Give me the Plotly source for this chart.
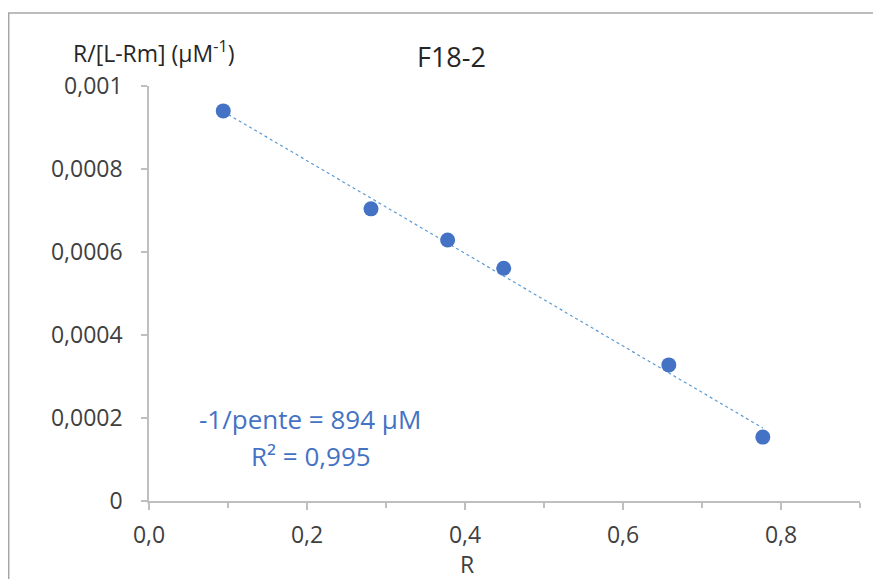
import numpy as np
import plotly.graph_objects as go

# Data
r_values = [0.094, 0.281, 0.378, 0.449, 0.658, 0.777]
ratio_values = [0.000940, 0.000704, 0.000629, 0.000561, 0.000328, 0.000154]

y_tickvals = [0, 0.0002, 0.0004, 0.0006, 0.0008, 0.001]
y_ticktext = ["0", "0,0002", "0,0004", "0,0006", "0,0008", "0,001"]
x_tickvals = [0, 0.2, 0.4, 0.6, 0.8]
x_ticktext = ["0,0", "0,2", "0,4", "0,6", "0,8"]

title_text = "F18-2"
y_title = "R/[L-Rm] (µM<sup>-1</sup>)"
x_title = "R"
fit_label_1 = "-1/pente = 894 µM"
fit_label_2 = "R² = 0,995"

# Linear trendline
slope, intercept = np.polyfit(r_values, ratio_values, 1)
fit_x = [min(r_values), max(r_values)]
fit_y = [slope * v + intercept for v in fit_x]

FONT = "Open Sans"
TXT = "#404040"
DARK = "#262626"
BLUE = "#4472C4"
AXIS = "#BFBFBF"

fig = go.Figure()
fig.add_trace(go.Scatter(x=fit_x, y=fit_y, mode="lines",
                         line=dict(color="#5B9BD5", width=1.2, dash="dot"),
                         hoverinfo="skip", showlegend=False))
fig.add_trace(go.Scatter(x=r_values, y=ratio_values, mode="markers",
                         marker=dict(color=BLUE, size=15),
                         showlegend=False))

# Page body has an 8px margin: figure starts at screen (8, 8)
OX, OY = 8, 8
SCR_W, SCR_H = 881, 579
L, R, T, B = 149, 21, 86, 78          # plot area in screen pixels
pw, ph = SCR_W - L - R, SCR_H - T - B

def px(x):
    return (x - L) / pw

def py(y):
    return (SCR_H - B - y) / ph

fig.update_layout(
    width=SCR_W - OX, height=SCR_H - OY,
    margin=dict(l=L - OX, r=R, t=T - OY, b=B),
    paper_bgcolor="white", plot_bgcolor="white",
    font=dict(family=FONT, color=TXT, size=23),
    xaxis=dict(range=[0, 0.9], tickvals=x_tickvals, ticktext=x_ticktext,
               showgrid=False, zeroline=False, showline=True,
               linecolor=AXIS, linewidth=1.5, ticks="outside", ticklen=7,
               tickcolor=AXIS, tickwidth=1.5, ticklabelstandoff=6,
               minor=dict(dtick=0.1, tick0=0, ticks="outside", ticklen=5,
                          tickcolor=AXIS, tickwidth=1.5, showgrid=False),
               tickfont=dict(size=23, color=TXT)),
    yaxis=dict(range=[0, 0.001], tickvals=y_tickvals, ticktext=y_ticktext,
               showgrid=False, zeroline=False, showline=True,
               linecolor=AXIS, linewidth=1.5, ticks="outside", ticklen=6,
               tickcolor=AXIS, tickwidth=1.5, ticklabelstandoff=14,
               tickfont=dict(size=23, color=TXT)),
    shapes=[dict(type="rect", xref="paper", yref="paper",
                 x0=px(8.7), x1=px(895), y0=py(600), y1=py(13),
                 line=dict(color="#A6A6A6", width=1.5), layer="below")],
    annotations=[
        dict(text=title_text, x=px(451), y=py(56), xref="paper", yref="paper",
             showarrow=False, font=dict(size=27, color=DARK),
             xanchor="center", yanchor="middle"),
        dict(text=y_title, x=px(153), y=py(52), xref="paper", yref="paper",
             showarrow=False, font=dict(size=23, color=DARK),
             xanchor="center", yanchor="middle"),
        dict(text=x_title, x=px(467), y=py(564), xref="paper", yref="paper",
             showarrow=False, font=dict(size=23, color=TXT),
             xanchor="center", yanchor="middle"),
        dict(text=fit_label_1, x=px(310), y=py(419), xref="paper", yref="paper",
             showarrow=False, font=dict(size=26, color=BLUE),
             xanchor="center", yanchor="middle"),
        dict(text=fit_label_2, x=px(311), y=py(456), xref="paper", yref="paper",
             showarrow=False, font=dict(size=26, color=BLUE),
             xanchor="center", yanchor="middle"),
    ],
)

fig.write_html("out.html")
